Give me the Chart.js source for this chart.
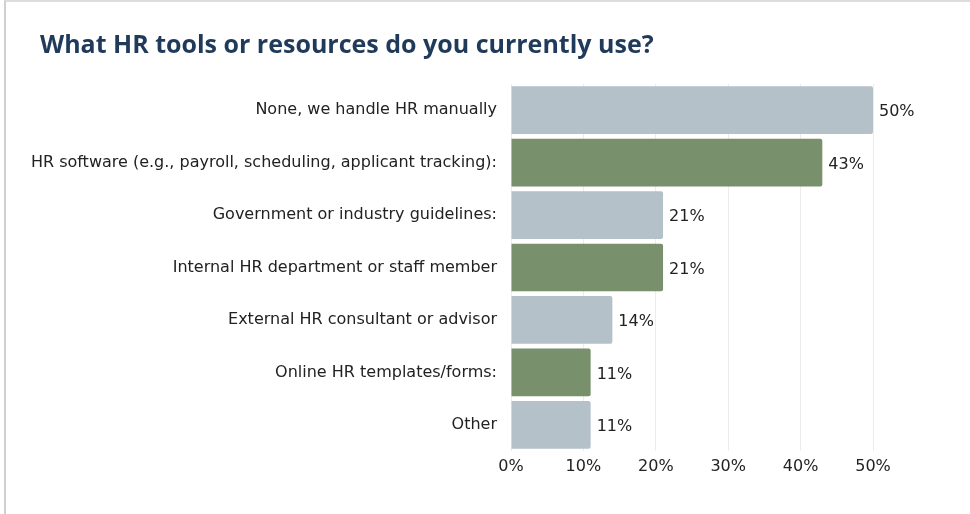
<!DOCTYPE html>
<html>
<head>
<meta charset="utf-8">
<script src="https://cdn.jsdelivr.net/npm/chart.js@4.4.1/dist/chart.umd.min.js"></script>
<style>
  html, body { margin: 0; padding: 0; background: #fff; }
  #wrap {
    position: absolute; left: 4px; top: 0; width: 966px; height: 514px;
    border-left: 2px solid #cfcfcf; border-top: 2px solid #dcdcdc;
    box-sizing: border-box;
  }
  #chart { position: absolute; left: -6px; top: -2px; }
  h1 {
    position: absolute; left: 34px; top: 26px; margin: 0;
    font: bold 25px/30px "Open Sans", sans-serif; color: #1f3a5a;
    white-space: nowrap; z-index: 1;
  }
</style>
</head>
<body>
<div id="wrap">
  <canvas id="chart" width="970" height="514"></canvas>
  <h1>What HR tools or resources do you currently use?</h1>
</div>
<script>
const categories = [
  'None, we handle HR manually',
  'HR software (e.g., payroll, scheduling, applicant tracking):',
  'Government or industry guidelines:',
  'Internal HR department or staff member',
  'External HR consultant or advisor',
  'Online HR templates/forms:',
  'Other'
];
const shares = [50, 43, 21, 21, 14, 11, 11];
const barColors = ['#b5c1c9', '#78906b', '#b5c1c9', '#78906b', '#b5c1c9', '#78906b', '#b5c1c9'];

const labelFont = '"DejaVu Sans", Verdana, sans-serif';

// percentage text at the end of each bar
const valueLabels = {
  id: 'valueLabels',
  afterDatasetsDraw(chart) {
    const ctx = chart.ctx;
    const meta = chart.getDatasetMeta(0);
    ctx.save();
    ctx.font = '16px ' + labelFont;
    ctx.fillStyle = '#222';
    ctx.textAlign = 'left';
    ctx.textBaseline = 'middle';
    meta.data.forEach(function (bar, i) {
      ctx.fillText(shares[i] + '%', bar.x + 6, bar.y + 2);
    });
    ctx.restore();
  }
};

const chartEl = document.getElementById('chart');
new Chart(chartEl, {
  type: 'bar',
  data: {
    labels: categories,
    datasets: [{
      data: shares,
      backgroundColor: barColors,
      borderRadius: 2,
      borderSkipped: 'start',
      barPercentage: 0.91,
      categoryPercentage: 1
    }]
  },
  options: {
    indexAxis: 'y',
    responsive: false,
    animation: false,
    layout: { padding: { left: 10, right: 97, top: 84, bottom: 0 } },
    scales: {
      x: {
        min: 0,
        max: 50,
        afterFit: function (scale) { scale.height = 63; },
        ticks: {
          stepSize: 10,
          padding: 6,
          color: '#222',
          font: { family: labelFont, size: 16 },
          callback: function (v) { return v + '%'; }
        },
        grid: { color: '#ececec', drawTicks: false },
        border: { display: false }
      },
      y: {
        afterFit: function (scale) { scale.width = 501; },
        ticks: {
          padding: 14,
          color: '#222',
          font: { family: labelFont, size: 16 }
        },
        grid: { display: false, drawTicks: false },
        border: { display: false }
      }
    },
    plugins: {
      legend: { display: false },
      tooltip: { enabled: false }
    }
  },
  plugins: [valueLabels]
});
</script>
</body>
</html>
